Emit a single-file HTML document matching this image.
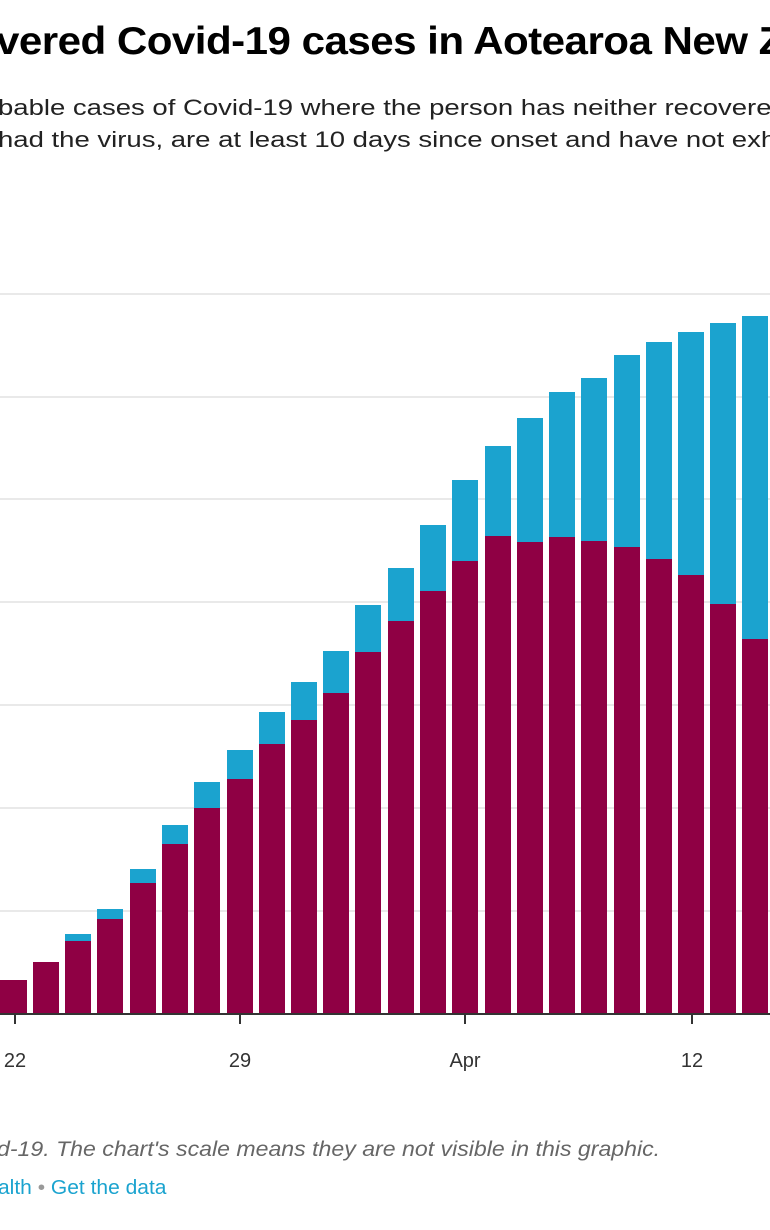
<!DOCTYPE html>
<html><head><meta charset="utf-8"><style>
html,body{margin:0;padding:0;background:#fff;width:770px;height:1230px;overflow:hidden;position:relative;font-family:"Liberation Sans",sans-serif}
.t{position:absolute;white-space:nowrap;transform-origin:0 0}
</style></head><body>
<div class="t" style="left:-4px;top:20px;font-size:39px;font-weight:bold;color:#000;letter-spacing:-0.5px;transform:scaleX(1.08)">vered Covid-19 cases in Aotearoa New Z</div>
<div class="t" style="left:-2px;top:92px;font-size:22px;color:#222;line-height:32px;transform:scaleX(1.25)">bable cases of Covid-19 where the person has neither recovered<br>had the virus, are at least 10 days since onset and have not exhi</div>
<svg style="position:absolute;left:0;top:0" width="770" height="1230">
<g stroke="#e2e2e2" stroke-width="1.5">
<line x1="0" x2="770" y1="294" y2="294"/><line x1="0" x2="770" y1="397" y2="397"/><line x1="0" x2="770" y1="499" y2="499"/><line x1="0" x2="770" y1="602" y2="602"/><line x1="0" x2="770" y1="705" y2="705"/><line x1="0" x2="770" y1="808" y2="808"/><line x1="0" x2="770" y1="911" y2="911"/>
</g>
<g id="bars"></g>
<line x1="0" x2="770" y1="1014" y2="1014" stroke="#333" stroke-width="2"/>
<g stroke="#333" stroke-width="2"><line x1="15" x2="15" y1="1014" y2="1024"/><line x1="240" x2="240" y1="1014" y2="1024"/><line x1="465" x2="465" y1="1014" y2="1024"/><line x1="692" x2="692" y1="1014" y2="1024"/></g>
<g font-family="Liberation Sans,sans-serif" font-size="20" fill="#333" text-anchor="middle">
<text x="15" y="1067">22</text><text x="240" y="1067">29</text><text x="465" y="1067">Apr</text><text x="692" y="1067">12</text></g>
</svg>
<div class="t" style="left:-3px;top:1138px;font-size:21px;font-style:italic;color:#666;transform:scaleX(1.1)">d-19. The chart's scale means they are not visible in this graphic.</div>
<div class="t" style="left:-2px;top:1177px;font-size:20px;color:#1aa3cf;transform:scaleX(1.05)">alth <span style="color:#999">•</span> Get the data</div>
<script>
var d=[[0,980,980],[33,962,962],[65,934,941],[97,909,919],[130,869,883],[162,825,844],[194,782,808],[227,750,779],[259,712,744],[291,682,720],[323,651,693],[355,605,652],[388,568,621],[420,525,591],[452,480,561],[485,446,536],[517,418,542],[549,392,537],[581,378,541],[614,355,547],[646,342,559],[678,332,575],[710,323,604],[742,316,639]];
var s="";d.forEach(function(b){var w=b[0]==0?27:26;
s+='<rect x="'+b[0]+'" y="'+b[1]+'" width="'+w+'" height="'+(b[2]-b[1])+'" fill="#1ba3cf"/>';
s+='<rect x="'+b[0]+'" y="'+b[2]+'" width="'+w+'" height="'+(1014-b[2])+'" fill="#8f0044"/>';});
document.getElementById("bars").innerHTML=s;
</script>
</body></html>
